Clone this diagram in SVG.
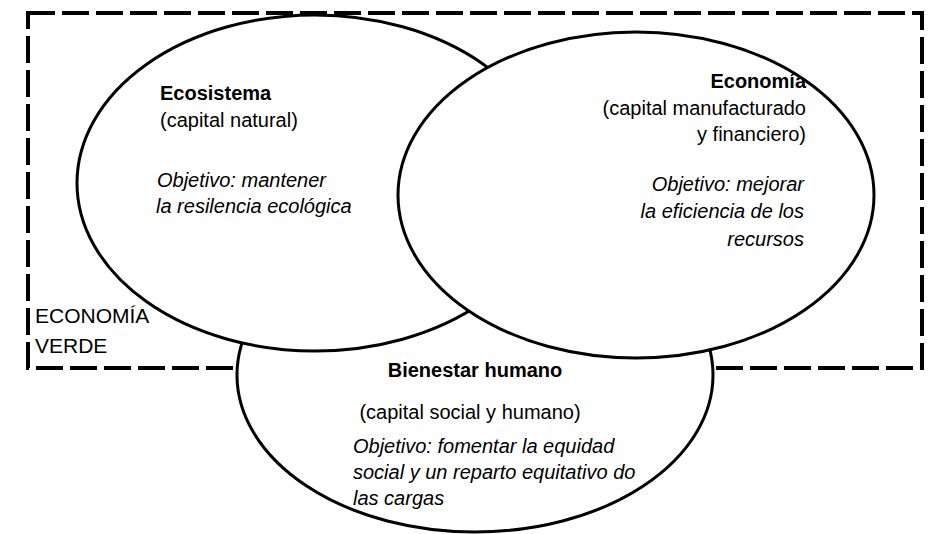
<svg xmlns="http://www.w3.org/2000/svg" width="928" height="534" viewBox="0 0 928 534">
<style>
.bg{fill:#ffffff}
.frame{fill:none;stroke:#000;stroke-width:4;stroke-dasharray:27 7}
.ell{fill:#ffffff;stroke:#000;stroke-width:3}
.t{font-family:"Liberation Sans",Arial,sans-serif;font-size:20px;fill:#000}
.b{font-weight:bold}
.i{font-style:italic}
.gv{font-family:"Liberation Sans",Arial,sans-serif;font-size:21px;fill:#000}
</style>
<rect class="bg" x="0" y="0" width="928" height="534"/>
<g id="economia-verde">
<rect class="frame" x="28" y="13" width="894" height="355"/>
<text class="gv" x="35" y="323">ECONOMÍA</text>
<text class="gv" x="35" y="353">VERDE</text>
</g>
<g id="connectors"></g>
<g id="bienestar">
<ellipse class="ell" cx="475" cy="375" rx="238" ry="157"/>
</g>
<g id="ecosistema">
<ellipse class="ell" cx="315" cy="183" rx="238" ry="168"/>
</g>
<g id="economia">
<ellipse class="ell" cx="636" cy="195" rx="238" ry="163"/>
</g>
<g id="ecosistema-text">
<text class="t b" x="160" y="100">Ecosistema</text>
<text class="t" x="160" y="127">(capital natural)</text>
<text class="t i" x="157" y="187">Objetivo: mantener</text>
<text class="t i" x="156" y="213">la resilencia ecológica</text>
</g>
<g id="economia-text">
<text class="t b" x="806" y="88" text-anchor="end">Economía</text>
<text class="t" x="806" y="115" text-anchor="end">(capital manufacturado</text>
<text class="t" x="806" y="141" text-anchor="end">y financiero)</text>
<text class="t i" x="804" y="191" text-anchor="end">Objetivo: mejorar</text>
<text class="t i" x="804" y="218" text-anchor="end">la eficiencia de los</text>
<text class="t i" x="804" y="246" text-anchor="end">recursos</text>
</g>
<g id="bienestar-text">
<text class="t b" x="475" y="377" text-anchor="middle">Bienestar humano</text>
<text class="t" x="470" y="419" text-anchor="middle">(capital social y humano)</text>
<text class="t i" x="353" y="453">Objetivo: fomentar la equidad</text>
<text class="t i" x="353" y="479">social y un reparto equitativo do</text>
<text class="t i" x="353" y="505">las cargas</text>
</g>
</svg>
